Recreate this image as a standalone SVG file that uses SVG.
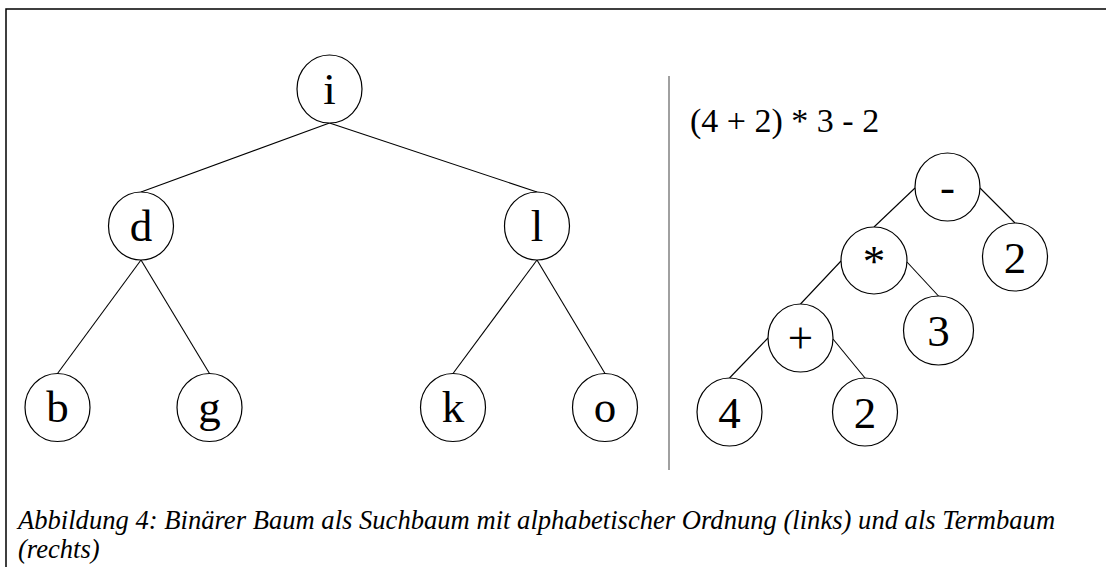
<svg xmlns="http://www.w3.org/2000/svg" width="1106" height="567" viewBox="0 0 1106 567">
  <style>
    .node ellipse { fill: #ffffff; stroke: #000000; stroke-width: 1.2; }
    .node text { font-size: 45px; text-anchor: middle; fill: #000000; }
    .edges line { stroke: #000000; stroke-width: 1.1; }
    .frame { stroke: #000000; stroke-width: 1.5; fill: none; }
    .divider { stroke: #808080; stroke-width: 1.5; }
    .expr { font-size: 34px; fill: #000000; }
    .caption { font-style: italic; font-size: 26.6px; fill: #000000; }
    .serif { font-family: "Liberation Serif", "Times New Roman", serif; }
  </style>

  <rect x="0" y="0" width="1106" height="567" fill="#ffffff"/>

  <!-- outer frame: top and left edges -->
  <path class="frame" d="M 1106 9 H 6 V 567"/>

  <!-- separator between the two trees -->
  <line class="divider" x1="669" y1="76" x2="669" y2="470"/>

  <!-- connectors -->
  <g id="edges" class="edges">
    <!-- search tree -->
    <line x1="329.5" y1="123" x2="141" y2="192"/>
    <line x1="329.5" y1="123" x2="537" y2="192"/>
    <line x1="141" y1="260" x2="57.5" y2="373.5"/>
    <line x1="141" y1="260" x2="209.5" y2="373.5"/>
    <line x1="537" y1="260" x2="453" y2="373.5"/>
    <line x1="537" y1="260" x2="605" y2="373.5"/>
    <!-- term tree -->
    <line x1="915" y1="188" x2="874" y2="227"/>
    <line x1="980" y1="188" x2="1015" y2="223"/>
    <line x1="841" y1="261" x2="800.5" y2="304"/>
    <line x1="907" y1="262" x2="938.5" y2="296"/>
    <line x1="768" y1="338" x2="729.5" y2="378"/>
    <line x1="833" y1="339" x2="865" y2="378"/>
  </g>

  <g class="serif">
  <!-- search tree nodes -->
  <g id="node-i" class="node"><ellipse cx="329.5" cy="89" rx="32.5" ry="34"/><text x="329.5" y="104">i</text></g>
  <g id="node-d" class="node"><ellipse cx="141" cy="226" rx="32.5" ry="34"/><text x="141" y="241">d</text></g>
  <g id="node-l" class="node"><ellipse cx="537" cy="226" rx="32.5" ry="34"/><text x="537" y="241">l</text></g>
  <g id="node-b" class="node"><ellipse cx="57.5" cy="407.5" rx="32.5" ry="34"/><text x="57.5" y="422">b</text></g>
  <g id="node-g" class="node"><ellipse cx="209.5" cy="407.5" rx="32.5" ry="34"/><text x="209.5" y="422">g</text></g>
  <g id="node-k" class="node"><ellipse cx="453" cy="407.5" rx="32.5" ry="34"/><text x="453" y="422">k</text></g>
  <g id="node-o" class="node"><ellipse cx="605" cy="407.5" rx="32.5" ry="34"/><text x="605" y="422">o</text></g>

  <!-- expression -->
  <text class="expr" x="690" y="132">(4 + 2) * 3 - 2</text>

  <!-- term tree nodes -->
  <g id="node-minus" class="node"><ellipse cx="947.5" cy="187" rx="32.5" ry="34"/><text x="947.5" y="202">-</text></g>
  <g id="node-times" class="node"><ellipse cx="874" cy="260.5" rx="33" ry="33.5"/><text x="874" y="275.5">*</text></g>
  <g id="node-two-a" class="node"><ellipse cx="1015" cy="257" rx="32.5" ry="34"/><text x="1015" y="273">2</text></g>
  <g id="node-plus" class="node"><ellipse cx="800.5" cy="338" rx="32.5" ry="34"/><text x="800.5" y="353">+</text></g>
  <g id="node-three" class="node"><ellipse cx="938.5" cy="330.5" rx="35" ry="34.5"/><text x="938.5" y="346">3</text></g>
  <g id="node-four" class="node"><ellipse cx="729.5" cy="412" rx="32.5" ry="34"/><text x="729.5" y="428">4</text></g>
  <g id="node-two-b" class="node"><ellipse cx="865" cy="412" rx="32.5" ry="34"/><text x="865" y="428">2</text></g>

  <!-- caption -->
  <text class="caption" x="18" y="529">Abbildung 4: Binärer Baum als Suchbaum mit alphabetischer Ordnung (links) und als Termbaum</text>
  <text class="caption" x="18" y="558">(rechts)</text>
  </g>
</svg>
